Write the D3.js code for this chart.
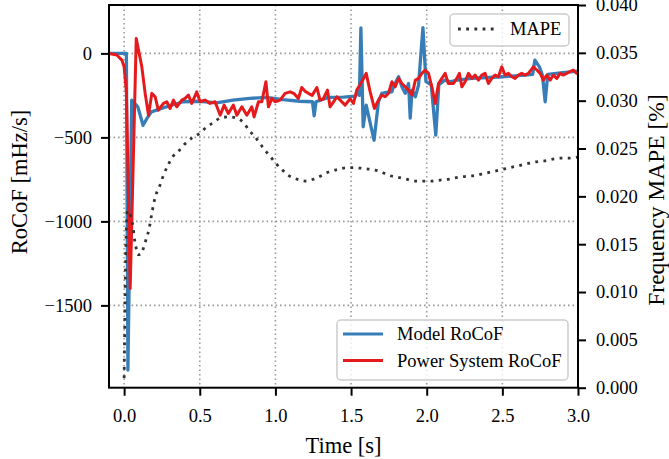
<!DOCTYPE html>
<html>
<head>
<meta charset="utf-8">
<script src="https://cdn.jsdelivr.net/npm/d3@7/dist/d3.min.js"></script>
<style>
  html, body { margin: 0; padding: 0; background: #fff; }
  svg { display: block; }
</style>
</head>
<body>
<svg id="chart" width="669" height="459"></svg>
<script>
// ---- data ----
const xTicks = [0.0, 0.5, 1.0, 1.5, 2.0, 2.5, 3.0];
const rocofTicks = [0, -500, -1000, -1500];
const mapeTicks = [0.000, 0.005, 0.010, 0.015, 0.020, 0.025, 0.030, 0.035, 0.040];

// Model RoCoF [mHz/s]
const modelTime = [-0.1, 0.015, 0.025, 0.05, 0.09, 0.11, 0.125, 0.15, 0.18, 0.28, 0.39, 0.5, 0.61, 0.72, 0.83, 0.94, 1.05, 1.16, 1.245, 1.256, 1.268, 1.35, 1.45, 1.53, 1.545, 1.555, 1.565, 1.58, 1.6, 1.652, 1.681, 1.703, 1.736, 1.77, 1.78, 1.814, 1.836, 1.858, 1.88, 1.891, 1.903, 1.925, 1.946, 1.975, 1.995, 2.03, 2.06, 2.08, 2.12, 2.155, 2.2, 2.3, 2.5, 2.65, 2.7, 2.715, 2.745, 2.765, 2.783, 2.8, 2.9, 3.0];
const modelRocof = [0, 0, -1885, -278, -318, -380, -428, -388, -348, -318, -288, -285, -295, -278, -268, -262, -275, -285, -288, -372, -288, -262, -260, -255, -215, -250, 152, -437, -308, -517, -288, -238, -232, -229, -199, -139, -199, -238, -179, -385, -219, -258, -189, 153, -168, -187, -487, -187, -159, -169, -159, -149, -139, -129, -125, -40, -80, -130, -288, -125, -115, -105];

// Power System RoCoF [mHz/s]
const systemTime = [-0.1, -0.048, -0.015, 0.0, 0.015, 0.04, 0.08, 0.117, 0.139, 0.161, 0.183, 0.205, 0.226, 0.26, 0.282, 0.304, 0.326, 0.348, 0.381, 0.403, 0.425, 0.447, 0.48, 0.502, 0.535, 0.568, 0.601, 0.635, 0.661, 0.689, 0.722, 0.745, 0.778, 0.811, 0.844, 0.859, 0.888, 0.91, 0.937, 0.954, 0.977, 0.998, 1.031, 1.064, 1.097, 1.124, 1.152, 1.174, 1.196, 1.218, 1.243, 1.274, 1.295, 1.317, 1.344, 1.361, 1.383, 1.406, 1.428, 1.461, 1.494, 1.516, 1.538, 1.571, 1.6, 1.626, 1.654, 1.681, 1.703, 1.725, 1.747, 1.77, 1.792, 1.814, 1.836, 1.858, 1.88, 1.903, 1.925, 1.946, 1.968, 1.99, 2.012, 2.034, 2.056, 2.078, 2.1, 2.122, 2.143, 2.177, 2.199, 2.216, 2.232, 2.254, 2.276, 2.298, 2.32, 2.342, 2.364, 2.386, 2.408, 2.43, 2.452, 2.474, 2.496, 2.518, 2.54, 2.562, 2.584, 2.606, 2.628, 2.65, 2.672, 2.705, 2.728, 2.75, 2.771, 2.794, 2.816, 2.837, 2.86, 2.882, 2.903, 2.925, 2.947, 2.969, 2.991, 3.0];
const systemRocof = [0, -10, -40, -80, -230, -1400, 88, -80, -238, -368, -238, -258, -338, -298, -288, -328, -278, -318, -278, -268, -248, -298, -229, -288, -278, -298, -288, -368, -308, -358, -308, -368, -318, -368, -318, -378, -288, -288, -169, -318, -268, -288, -278, -238, -229, -240, -268, -203, -225, -238, -250, -203, -278, -270, -219, -318, -290, -258, -278, -308, -270, -298, -218, -169, -119, -228, -328, -278, -248, -258, -238, -169, -199, -149, -179, -199, -219, -248, -159, -149, -119, -100, -119, -199, -298, -179, -149, -119, -179, -179, -149, -119, -199, -169, -119, -149, -129, -159, -129, -119, -179, -149, -129, -139, -80, -129, -119, -139, -149, -129, -119, -129, -119, -80, -99, -119, -159, -129, -159, -129, -149, -119, -129, -119, -109, -99, -119, -115];

// Frequency MAPE [%]
const mapeTime = [0.000, 0.012, 0.022, 0.035, 0.05, 0.06, 0.066, 0.077, 0.09, 0.106, 0.128, 0.145, 0.165, 0.183, 0.205, 0.233, 0.26, 0.291, 0.324, 0.364, 0.403, 0.449, 0.50, 0.542, 0.589, 0.639, 0.689, 0.740, 0.789, 0.826, 0.866, 0.899, 0.932, 0.970, 1.005, 1.043, 1.086, 1.142, 1.197, 1.252, 1.308, 1.358, 1.410, 1.473, 1.53, 1.584, 1.639, 1.694, 1.749, 1.808, 1.864, 1.924, 1.98, 2.035, 2.09, 2.15, 2.21, 2.27, 2.327, 2.382, 2.441, 2.497, 2.551, 2.606, 2.662, 2.717, 2.779, 2.834, 2.893, 2.948, 3.0];
const mapeValue = [0.0010, 0.0150, 0.0185, 0.0183, 0.0175, 0.0167, 0.0158, 0.0148, 0.0139, 0.0139, 0.0146, 0.0155, 0.0166, 0.0182, 0.0199, 0.0210, 0.0222, 0.0233, 0.0242, 0.0248, 0.0255, 0.0261, 0.0266, 0.0272, 0.0277, 0.0282, 0.0283, 0.0282, 0.0277, 0.0269, 0.0262, 0.0255, 0.0248, 0.0241, 0.0234, 0.0228, 0.0222, 0.0218, 0.0216, 0.0218, 0.0222, 0.0226, 0.0228, 0.0230, 0.0230, 0.0229, 0.0228, 0.0226, 0.0222, 0.0220, 0.0218, 0.0216, 0.0216, 0.0216, 0.0217, 0.0218, 0.0220, 0.0221, 0.0222, 0.0224, 0.0226, 0.0228, 0.0230, 0.0232, 0.0234, 0.0236, 0.0237, 0.0239, 0.0240, 0.0240, 0.0241];

// ---- layout ----
const W = 669, H = 459;
const plot = { left: 109, right: 578, top: 5, bottom: 387.7 };
const FONT = "'Liberation Serif', 'Times New Roman', Times, serif";
const BLUE = "#377eb8", RED = "#e41a1c", MAPE_COLOR = "#333333";

const svg = d3.select("#chart");

const x = d3.scaleLinear().domain([-0.1, 3.0]).range([plot.left, plot.right]);
const yL = d3.scaleLinear().domain([-1990, 288]).range([plot.bottom, plot.top]);
const yR = d3.scaleLinear().domain([0, 0.04]).range([plot.bottom, plot.top]);

svg.append("defs").append("clipPath").attr("id", "plotClip")
  .append("rect")
  .attr("x", plot.left).attr("y", plot.top)
  .attr("width", plot.right - plot.left).attr("height", plot.bottom - plot.top);

// grid
const grid = svg.append("g").attr("stroke", "#9a9a9a").attr("stroke-width", 1.6)
  .attr("stroke-dasharray", "1.6,2.9").attr("fill", "none");
xTicks.forEach(t => grid.append("line")
  .attr("x1", x(t)).attr("x2", x(t)).attr("y1", plot.top).attr("y2", plot.bottom));
rocofTicks.forEach(v => grid.append("line")
  .attr("x1", plot.left).attr("x2", plot.right).attr("y1", yL(v)).attr("y2", yL(v)));

const lines = svg.append("g").attr("clip-path", "url(#plotClip)");

const zip = (ts, vs) => ts.map((t, i) => [t, vs[i]]);

const rocofLine = d3.line().x(d => x(d[0])).y(d => yL(d[1]));
lines.append("path").datum(zip(modelTime, modelRocof))
  .attr("d", rocofLine).attr("fill", "none").attr("stroke", BLUE)
  .attr("stroke-width", 3.3).attr("stroke-linejoin", "round");
lines.append("path").datum(zip(systemTime, systemRocof))
  .attr("d", rocofLine).attr("fill", "none").attr("stroke", RED)
  .attr("stroke-width", 3.0).attr("stroke-linejoin", "round");

// legend for RoCoF series
function legendBox(g, x0, y0, w, h) {
  g.append("rect").attr("x", x0).attr("y", y0).attr("width", w).attr("height", h)
    .attr("rx", 4).attr("ry", 4)
    .attr("fill", "#fff").attr("fill-opacity", 0.8)
    .attr("stroke", "#cccccc").attr("stroke-width", 1.5);
}
const leg1 = svg.append("g");
legendBox(leg1, 337, 320, 231, 60);
[["Model RoCoF", BLUE, 334], ["Power System RoCoF", RED, 360.5]].forEach(([label, c, yy]) => {
  leg1.append("line").attr("x1", 343).attr("x2", 383).attr("y1", yy).attr("y2", yy)
    .attr("stroke", c).attr("stroke-width", 3.2);
  leg1.append("text").attr("x", 397).attr("y", yy).attr("dy", "0.33em")
    .attr("font-family", FONT).attr("font-size", 18.5).attr("fill", "#000").text(label);
});

// MAPE curve on the secondary axis
const mapeLine = d3.line().x(d => x(d[0])).y(d => yR(d[1])).curve(d3.curveMonotoneX);
svg.append("g").attr("clip-path", "url(#plotClip)")
  .append("path").datum(zip(mapeTime, mapeValue))
  .attr("d", mapeLine).attr("fill", "none").attr("stroke", MAPE_COLOR)
  .attr("stroke-width", 2.8).attr("stroke-dasharray", "2.8,5.4");

const leg2 = svg.append("g");
legendBox(leg2, 450, 14, 119, 32);
leg2.append("line").attr("x1", 458).attr("x2", 496).attr("y1", 29).attr("y2", 29)
  .attr("stroke", MAPE_COLOR).attr("stroke-width", 2.8).attr("stroke-dasharray", "2.8,5.4");
leg2.append("text").attr("x", 510).attr("y", 29).attr("dy", "0.33em")
  .attr("font-family", FONT).attr("font-size", 18.5).attr("fill", "#000").text("MAPE");

// frame
svg.append("rect").attr("x", plot.left).attr("y", plot.top)
  .attr("width", plot.right - plot.left).attr("height", plot.bottom - plot.top)
  .attr("fill", "none").attr("stroke", "#000").attr("stroke-width", 2);

// axes
function styleAxis(g) {
  g.select(".domain").remove();
  g.selectAll(".tick line").attr("stroke", "#000").attr("stroke-width", 2);
  g.selectAll(".tick text").attr("font-family", FONT).attr("font-size", 18.5).attr("fill", "#000");
}
const minusFmt = v => (v < 0 ? "\u2212" + Math.abs(v) : String(v));

svg.append("g").attr("transform", `translate(0,${plot.bottom})`)
  .call(d3.axisBottom(x).tickValues(xTicks).tickFormat(d3.format(".1f")).tickSize(8).tickPadding(13))
  .call(styleAxis);
svg.append("g").attr("transform", `translate(${plot.left},0)`)
  .call(d3.axisLeft(yL).tickValues(rocofTicks).tickFormat(minusFmt).tickSize(8).tickPadding(9))
  .call(styleAxis);
svg.append("g").attr("transform", `translate(${plot.right},0)`)
  .call(d3.axisRight(yR).tickValues(mapeTicks).tickFormat(d3.format(".3f")).tickSize(8).tickPadding(10))
  .call(styleAxis);

// axis titles
svg.append("text").attr("x", (plot.left + plot.right) / 2).attr("y", 453)
  .attr("text-anchor", "middle").attr("font-family", FONT).attr("font-size", 22.5)
  .attr("fill", "#000").text("Time [s]");
svg.append("text").attr("transform", "translate(27,182) rotate(-90)")
  .attr("text-anchor", "middle").attr("font-family", FONT).attr("font-size", 22.5)
  .attr("fill", "#000").text("RoCoF [mHz/s]");
svg.append("text").attr("transform", "translate(664,200) rotate(-90)")
  .attr("text-anchor", "middle").attr("font-family", FONT).attr("font-size", 23.5)
  .attr("fill", "#000").text("Frequency MAPE [%]");
</script>
</body>
</html>
